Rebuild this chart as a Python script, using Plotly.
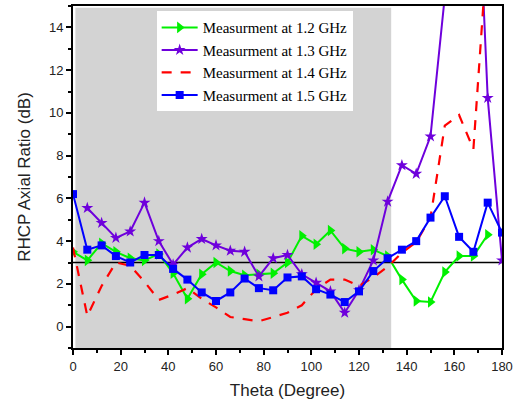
import plotly.graph_objects as go

theta = [0, 6, 12, 18, 24, 30, 36, 42, 48, 54, 60, 66, 72, 78, 84, 90, 96, 102,
         108, 114, 120, 126, 132, 138, 144, 150, 156, 162, 168, 174, 180]

ar_12 = [3.5, 3.1, 3.9, 3.5, 3.2, 3.1, 3.4, 2.5, 1.3, 2.45, 3.0, 2.6, 2.4, 2.45,
         2.5, 3.0, 4.25, 3.85, 4.5, 3.65, 3.5, 3.6, 3.3, 2.2, 1.2, 1.15, 2.55,
         3.3, 3.3, 4.3]
ar_13 = [None, 5.55, 4.85, 4.15, 4.45, 5.8, 4.0, 2.9, 3.7, 4.1, 3.8, 3.55, 3.5,
         2.35, 3.2, 3.35, 2.45, 2.05, 1.65, 0.65, 1.7, 3.1, 5.85, 7.55, 7.15,
         8.9, 15.8, 22.0, 26.0, 10.7, 3.1]
ar_14 = [3.7, 0.5, 1.9, 3.0, 2.85, 2.1, 1.25, 1.5, 1.8, 1.3, 0.9, 0.45, 0.35,
         0.25, 0.45, 0.65, 1.0, 1.75, 2.2, 2.2, 1.9, 2.3, 2.8, 3.45, 3.95, 5.1,
         9.4, 9.9, 8.3, 18.0]
ar_15 = [6.2, 3.6, 3.8, 3.3, 3.0, 3.35, 3.35, 2.7, 2.2, 1.6, 1.2, 1.6, 2.25, 1.8,
         1.7, 2.3, 2.35, 1.75, 1.5, 1.15, 1.65, 2.6, 3.2, 3.6, 4.0, 5.1, 6.1,
         4.2, 3.5, 5.8, 4.4]

labels = ["Measurment at 1.2 GHz", "Measurment at 1.3 GHz",
          "Measurment at 1.4 GHz", "Measurment at 1.5 GHz"]

x_ticks = [0, 20, 40, 60, 80, 100, 120, 140, 160, 180]
y_ticks = [0, 2, 4, 6, 8, 10, 12, 14]

fig = go.Figure()

fig.add_trace(go.Scatter(
    x=theta[:len(ar_12)], y=ar_12, name=labels[0], mode="lines+markers",
    line=dict(color="#00F000", width=2),
    marker=dict(symbol="triangle-right", size=10, color="#00F000")))
fig.add_trace(go.Scatter(
    x=theta, y=ar_13, name=labels[1], mode="lines+markers",
    line=dict(color="#6E00DC", width=2),
    marker=dict(symbol="star", size=9, color="#6E00DC", line=dict(width=0))))
fig.add_trace(go.Scatter(
    x=theta[:len(ar_14)], y=ar_14, name=labels[2], mode="lines",
    line=dict(color="#FF0000", width=2.2, dash="10px,9px")))
fig.add_trace(go.Scatter(
    x=theta, y=ar_15, name=labels[3], mode="lines+markers",
    line=dict(color="#0000FF", width=2),
    marker=dict(symbol="square", size=8, color="#0000FF")))

fig.add_shape(type="rect", xref="x", yref="paper", x0=1, x1=133.5, y0=0, y1=0.995,
              fillcolor="#D3D3D3", line=dict(width=0), layer="below")
fig.add_shape(type="line", xref="paper", yref="y", x0=0, x1=1, y0=3, y1=3,
              line=dict(color="black", width=1.5), layer="below")

axis_common = dict(
    showgrid=False, zeroline=False, showline=True, linecolor="black",
    linewidth=2, mirror=True, ticks="outside", ticklen=5, tickwidth=1.5,
    tickcolor="black", automargin=False,
    tickfont=dict(family="Liberation Sans, Arial", size=13, color="#222"),
)

fig.update_xaxes(
    range=[0, 180], tickvals=x_ticks,
    minor=dict(dtick=10, ticks="outside", ticklen=3, tickcolor="black", tickwidth=1.5),
    title=dict(text="Theta (Degree)", font=dict(family="Liberation Sans, Arial", size=17, color="#222"),
               standoff=12),
    **axis_common)
fig.update_yaxes(
    range=[-1, 15], tickvals=y_ticks,
    minor=dict(dtick=1, ticks="outside", ticklen=3, tickcolor="black", tickwidth=1.5),
    title=dict(text="RHCP Axial Ratio (dB)", font=dict(family="Liberation Sans, Arial", size=17, color="#222"),
               standoff=14),
    **axis_common)

fig.update_layout(
    width=514, height=403,
    margin=dict(l=73, r=12, t=6, b=55),
    paper_bgcolor="white", plot_bgcolor="white",
    showlegend=True,
    legend=dict(x=0.195, y=0.985, xanchor="left", yanchor="top",
                bgcolor="white", borderwidth=0,
                font=dict(family="Liberation Serif, Times New Roman", size=15, color="black"),
                tracegroupgap=0, itemwidth=36),
)

fig.write_html("out.html")
